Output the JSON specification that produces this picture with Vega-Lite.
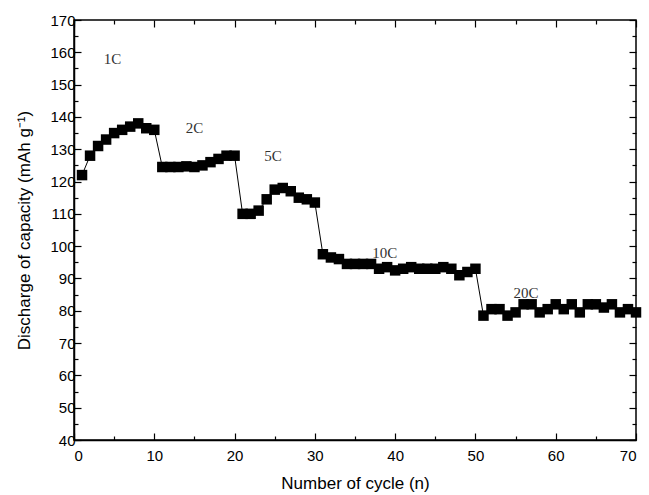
{
  "$schema": "https://vega.github.io/schema/vega-lite/v6.json",
  "autosize": "none",
  "width": 562,
  "height": 420,
  "padding": {"left": 74, "top": 20, "right": 13, "bottom": 55},
  "background": "white",
  "config": {
    "view": {"stroke": "black", "strokeWidth": 1.5},
    "axis": {"labelFont": "Liberation Sans", "titleFont": "Liberation Sans", "labelFontSize": 15, "titleFontSize": 17, "titleFontWeight": "normal", "labelColor": "black", "titleColor": "black", "domainColor": "black", "tickColor": "black", "grid": false, "domainWidth": 1.5, "tickWidth": 1.2}
  },
  "datasets": {
    "cap": [
      {"n":1,"c":122},{"n":2,"c":128},{"n":3,"c":131},{"n":4,"c":133},{"n":5,"c":135},
      {"n":6,"c":136},{"n":7,"c":137},{"n":8,"c":138},{"n":9,"c":136.5},{"n":10,"c":136},
      {"n":11,"c":124.5},{"n":12,"c":124.5},{"n":13,"c":124.5},{"n":14,"c":124.7},{"n":15,"c":124.5},
      {"n":16,"c":125},{"n":17,"c":126},{"n":18,"c":127},{"n":19,"c":128},{"n":20,"c":128},
      {"n":21,"c":110},{"n":22,"c":110},{"n":23,"c":111},{"n":24,"c":114.5},{"n":25,"c":117.5},
      {"n":26,"c":118},{"n":27,"c":117},{"n":28,"c":115},{"n":29,"c":114.5},{"n":30,"c":113.5},
      {"n":31,"c":97.5},{"n":32,"c":96.5},{"n":33,"c":96},{"n":34,"c":94.5},{"n":35,"c":94.5},
      {"n":36,"c":94.5},{"n":37,"c":94.5},{"n":38,"c":93},{"n":39,"c":93.5},{"n":40,"c":92.5},
      {"n":41,"c":93},{"n":42,"c":93.5},{"n":43,"c":93},{"n":44,"c":93},{"n":45,"c":93},
      {"n":46,"c":93.5},{"n":47,"c":93},{"n":48,"c":91},{"n":49,"c":92},{"n":50,"c":93},
      {"n":51,"c":78.5},{"n":52,"c":80.5},{"n":53,"c":80.5},{"n":54,"c":78.5},{"n":55,"c":79.5},
      {"n":56,"c":82},{"n":57,"c":82},{"n":58,"c":79.5},{"n":59,"c":80.5},{"n":60,"c":82},
      {"n":61,"c":80.5},{"n":62,"c":82},{"n":63,"c":79.5},{"n":64,"c":82},{"n":65,"c":82},
      {"n":66,"c":81},{"n":67,"c":82},{"n":68,"c":79.5},{"n":69,"c":80.5},{"n":70,"c":79.5}
    ],
    "labels": [
      {"n":4.8,"c":158,"t":"1C"},
      {"n":15,"c":136.5,"t":"2C"},
      {"n":24.8,"c":128,"t":"5C"},
      {"n":38.7,"c":98,"t":"10C"},
      {"n":56.3,"c":85.5,"t":"20C"}
    ]
  },
  "resolve": {"axis": {"x": "independent", "y": "independent"}},
  "layer": [
    {
      "data": {"name": "cap"},
      "mark": {"type": "line", "color": "black", "strokeWidth": 1},
      "encoding": {
        "x": {"field": "n", "type": "quantitative", "scale": {"domain": [0, 70], "nice": false},
          "axis": {"orient": "top", "values": [0,5,10,15,20,25,30,35,40,45,50,55,60,65,70], "labels": false, "title": null, "domain": false,
            "tickSize": {"condition": {"test": "datum.value % 10 === 0", "value": -7}, "value": -4}}},
        "y": {"field": "c", "type": "quantitative", "scale": {"domain": [40, 170], "nice": false, "zero": false},
          "axis": {"orient": "right", "values": [40,45,50,55,60,65,70,75,80,85,90,95,100,105,110,115,120,125,130,135,140,145,150,155,160,165,170], "labels": false, "title": null, "domain": false,
            "tickSize": {"condition": {"test": "datum.value % 10 === 0", "value": -7}, "value": -4}}}
      }
    },
    {
      "data": {"name": "cap"},
      "mark": {"type": "point", "shape": "square", "filled": true, "color": "black", "size": 110, "opacity": 1},
      "encoding": {
        "x": {"field": "n", "type": "quantitative", "scale": {"domain": [0, 70], "nice": false},
          "axis": {"orient": "bottom", "values": [0,5,10,15,20,25,30,35,40,45,50,55,60,65,70],
            "labelExpr": "datum.value % 10 === 0 ? datum.label : ''", "title": "Number of cycle (n)", "titlePadding": 12, "labelPadding": 15,
            "tickSize": {"condition": {"test": "datum.value % 10 === 0", "value": -7}, "value": -4}}},
        "y": {"field": "c", "type": "quantitative", "scale": {"domain": [40, 170], "nice": false, "zero": false},
          "axis": {"orient": "left", "values": [40,45,50,55,60,65,70,75,80,85,90,95,100,105,110,115,120,125,130,135,140,145,150,155,160,165,170],
            "labelExpr": "datum.value % 10 === 0 ? datum.label : ''", "title": "Discharge of capacity (mAh g⁻¹)", "titlePadding": 16, "labelPadding": 6,
            "tickSize": {"condition": {"test": "datum.value % 10 === 0", "value": -7}, "value": -4}}}
      }
    },
    {
      "data": {"name": "labels"},
      "mark": {"type": "text", "font": "Liberation Serif", "fontSize": 15, "color": "#333333"},
      "encoding": {
        "x": {"field": "n", "type": "quantitative", "axis": null},
        "y": {"field": "c", "type": "quantitative", "axis": null},
        "text": {"field": "t"}
      }
    }
  ]
}
